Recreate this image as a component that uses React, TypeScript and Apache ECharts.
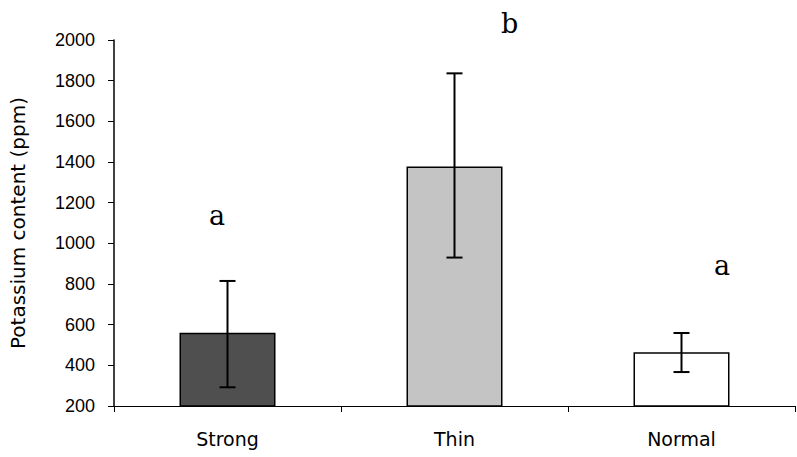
import React, { useEffect, useRef } from "react";
import * as echarts from "echarts";

const categories = ["Strong", "Thin", "Normal"];
const means = [560, 1378, 464];
const errLow = [292, 930, 367];
const errHigh = [815, 1836, 559];
const letters = ["a", "b", "a"];
const barColors = ["#4f4f4f", "#c4c4c4", "#ffffff"];
const yTicks = { min: 200, max: 2000, interval: 200 };

export default function App() {
  const ref = useRef<HTMLDivElement>(null);
  useEffect(() => {
    document.body.style.margin = "0";
    const chart = echarts.init(ref.current!, null, { renderer: "svg" });
    const letterStyle = (t: string) => ({
      text: t,
      font: "27px 'DejaVu Serif', serif",
      fill: "#000",
      align: "left",
      verticalAlign: "middle",
    });
    chart.setOption({
      animation: false,
      backgroundColor: "#ffffff",
      grid: { left: 113, right: 2, top: 40, bottom: 51 },
      xAxis: {
        type: "category",
        data: categories,
        axisLine: { lineStyle: { color: "#000", width: 1 } },
        axisTick: { show: true, length: 6, lineStyle: { color: "#000" } },
        axisLabel: { color: "#000", fontFamily: "DejaVu Sans", fontSize: 19, margin: 23 },
      },
      yAxis: {
        type: "value",
        min: yTicks.min,
        max: yTicks.max,
        interval: yTicks.interval,
        name: "Potassium content (ppm)",
        nameLocation: "middle",
        nameGap: 86,
        nameRotate: 90,
        nameTextStyle: { color: "#000", fontFamily: "DejaVu Sans", fontSize: 20 },
        axisLine: { show: true, lineStyle: { color: "#000", width: 1.5 } },
        axisTick: { show: true, length: 6, lineStyle: { color: "#000" } },
        axisLabel: {
          color: "#000",
          fontFamily: "Liberation Sans, Arial",
          fontSize: 18,
          margin: 19,
          formatter: (v: number) => String(v),
        },
        splitLine: { show: false },
      },
      series: [
        {
          type: "bar",
          barWidth: 96,
          data: means.map((v, i) => ({
            value: v,
            itemStyle: { color: barColors[i], borderColor: "#000", borderWidth: 1.5 },
          })),
        },
        {
          type: "custom",
          data: categories.map((_, i) => [i, errLow[i], errHigh[i]]),
          renderItem: (params: any, api: any) => {
            const x = api.value(0);
            const lo = api.coord([x, api.value(1)]);
            const hi = api.coord([x, api.value(2)]);
            const cap = 8;
            const style = { stroke: "#000", lineWidth: 2 };
            return {
              type: "group",
              children: [
                { type: "line", shape: { x1: hi[0], y1: hi[1], x2: lo[0], y2: lo[1] }, style },
                { type: "line", shape: { x1: hi[0] - cap, y1: hi[1], x2: hi[0] + cap, y2: hi[1] }, style },
                { type: "line", shape: { x1: lo[0] - cap, y1: lo[1], x2: lo[0] + cap, y2: lo[1] }, style },
              ],
            };
          },
          z: 5,
        },
      ],
      graphic: [
        { type: "text", x: 209, y: 215, style: letterStyle(letters[0]) },
        { type: "text", x: 501, y: 23, style: letterStyle(letters[1]) },
        { type: "text", x: 714, y: 265, style: letterStyle(letters[2]) },
      ],
    });
    return () => chart.dispose();
  }, []);
  return <div ref={ref} style={{ width: 797, height: 457 }} />;
}
